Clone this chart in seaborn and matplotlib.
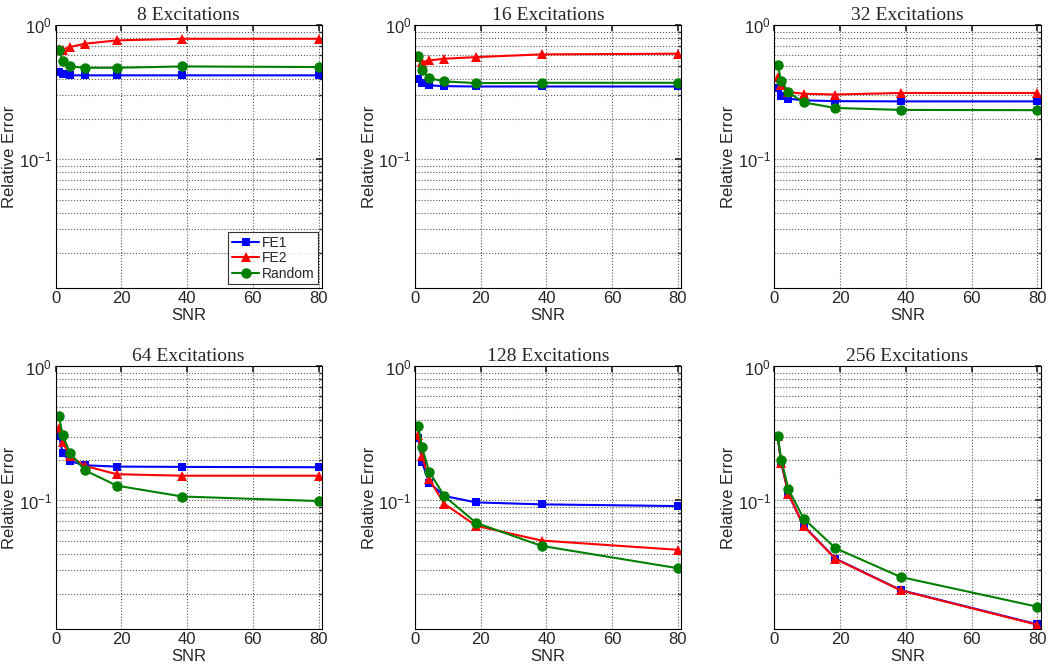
import matplotlib
matplotlib.use("Agg")
import matplotlib.pyplot as plt
import seaborn as sns
import pandas as pd

# SNR sample points (shared by every panel)
snr = [1, 2.1, 4.3, 8.9, 18.6, 38.5, 80]
methods = ["FE1", "FE2", "Random"]
excitations = [8, 16, 32, 64, 128, 256]

# relative error
fe1_8 = [0.449, 0.436, 0.424, 0.424, 0.424, 0.424, 0.424]
fe2_8 = [0.67, 0.658, 0.69, 0.73, 0.773, 0.795, 0.795]
rnd_8 = [0.658, 0.542, 0.494, 0.483, 0.483, 0.494, 0.489]

fe1_16 = [0.395, 0.371, 0.357, 0.352, 0.35, 0.35, 0.35]
fe2_16 = [0.58, 0.532, 0.548, 0.564, 0.58, 0.608, 0.615]
rnd_16 = [0.587, 0.461, 0.404, 0.382, 0.371, 0.373, 0.373]

fe1_32 = [0.343, 0.297, 0.284, 0.276, 0.272, 0.271, 0.271]
fe2_32 = [0.411, 0.357, 0.318, 0.309, 0.305, 0.313, 0.313]
rnd_32 = [0.506, 0.386, 0.316, 0.266, 0.242, 0.234, 0.233]

fe1_64 = [0.305, 0.227, 0.197, 0.183, 0.179, 0.178, 0.177]
fe2_64 = [0.347, 0.272, 0.215, 0.181, 0.157, 0.153, 0.153]
rnd_64 = [0.428, 0.31, 0.227, 0.168, 0.129, 0.107, 0.099]

fe1_128 = [0.293, 0.194, 0.136, 0.108, 0.0967, 0.0935, 0.0908]
fe2_128 = [0.306, 0.215, 0.144, 0.0945, 0.0647, 0.0502, 0.0428]
rnd_128 = [0.361, 0.251, 0.164, 0.108, 0.068, 0.0458, 0.0312]

fe1_256 = [0.298, 0.19, 0.111, 0.0648, 0.0368, 0.0214, 0.0119]
fe2_256 = [0.301, 0.192, 0.112, 0.0643, 0.0366, 0.0213, 0.0118]
rnd_256 = [0.305, 0.2, 0.121, 0.0733, 0.044, 0.0268, 0.0161]

series = {
    8: (fe1_8, fe2_8, rnd_8),
    16: (fe1_16, fe2_16, rnd_16),
    32: (fe1_32, fe2_32, rnd_32),
    64: (fe1_64, fe2_64, rnd_64),
    128: (fe1_128, fe2_128, rnd_128),
    256: (fe1_256, fe2_256, rnd_256),
}

palette = {"FE1": (0, 0, 1), "FE2": (1, 0, 0), "Random": (0, 0.5, 0)}
markers = {"FE1": "s", "FE2": "^", "Random": "o"}
marker_sizes = {"s": 6, "^": 7.5, "o": 7.5}

sns.set_theme(style="white")
plt.rcParams["font.family"] = ["Liberation Sans", "DejaVu Sans"]
plt.rcParams["mathtext.fontset"] = "custom"
plt.rcParams["mathtext.rm"] = "Liberation Sans"

fig, axes = plt.subplots(2, 3, figsize=(10.5, 6.69), dpi=100)
fig.subplots_adjust(left=0.053, right=0.991, bottom=0.06, top=0.962,
                    wspace=0.35, hspace=0.30)

for ax, n in zip(axes.flat, excitations):
    rows = []
    for m, vals in zip(methods, series[n]):
        for s, v in zip(snr, vals):
            rows.append({"SNR": s, "err": v, "method": m})
    df = pd.DataFrame(rows)

    sns.lineplot(data=df, x="SNR", y="err", hue="method", style="method",
                 palette=palette, markers=markers, dashes=False,
                 hue_order=methods, style_order=methods,
                 markersize=7, markeredgewidth=0, linewidth=1.5,
                 legend=(n == 8), ax=ax)
    for ln in ax.lines:
        mk = ln.get_marker()
        if mk in marker_sizes:
            ln.set_markersize(marker_sizes[mk])

    ax.set_yscale("log")
    ax.set_xlim(0, 81)
    ax.set_ylim(0.011, 1)
    ax.set_xticks([0, 20, 40, 60, 80])
    ax.set_title(f"{n} Excitations", family=["Liberation Serif"], fontsize=14, pad=4)
    ax.set_xlabel("SNR", fontsize=12, labelpad=1)
    ax.set_ylabel("Relative Error", fontsize=12, labelpad=1)
    ax.tick_params(axis="both", which="both", direction="in", top=True, right=True,
                   labelsize=12)
    ax.tick_params(axis="both", which="major", length=4, pad=2.5)
    ax.tick_params(axis="y", which="minor", length=2)
    ax.grid(True, which="major", linestyle=":", color="#555555", linewidth=0.8)
    ax.grid(True, which="minor", axis="y", linestyle=":", color="#555555", linewidth=0.8)
    for sp in ax.spines.values():
        sp.set_color("black")
        sp.set_linewidth(0.8)

    if n == 8:
        for ln in ax.get_legend().legend_handles:
            mk = ln.get_marker()
            if mk in marker_sizes:
                ln.set_markersize(marker_sizes[mk])
        leg = ax.legend(loc="lower right", fontsize=10, frameon=True, fancybox=False,
                        borderaxespad=0.25, handlelength=2.0, borderpad=0.25,
                        labelspacing=0.12, handletextpad=0.2)
        leg.get_frame().set_edgecolor("black")
        leg.get_frame().set_linewidth(0.8)

fig.savefig("out.png", dpi=100)
